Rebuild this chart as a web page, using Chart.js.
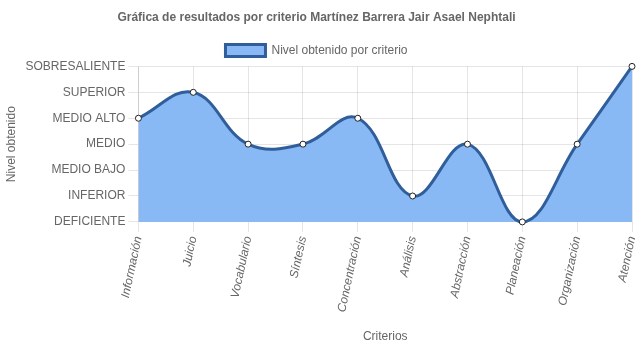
<!DOCTYPE html>
<html lang="es">
<head>
<meta charset="utf-8">
<title>Resultados por criterio</title>
<script src="https://cdn.jsdelivr.net/npm/chart.js@4.4.0/dist/chart.umd.min.js"></script>
<style>
  html, body { margin: 0; padding: 0; background: #fff; }
  #wrap { width: 637px; height: 348px; }
</style>
</head>
<body>
<div id="wrap"><canvas id="grafica"></canvas></div>
<script>
// Criterios evaluados (eje X)
const criterios = ["Información", "Juicio", "Vocabulario", "Síntesis", "Concentración",
                   "Análisis", "Abstracción", "Planeación", "Organización", "Atención"]

// Escala de niveles, de menor a mayor (eje Y)
const niveles = ["DEFICIENTE", "INFERIOR", "MEDIO BAJO", "MEDIO", "MEDIO ALTO", "SUPERIOR", "SOBRESALIENTE"]

// Nivel obtenido en cada criterio (índice dentro de `niveles`)
const nivelObtenido = [4, 5, 3, 3, 4, 1, 3, 0, 3, 6]

Chart.defaults.font.family = "'Liberation Sans', Arial, Helvetica, sans-serif"
Chart.defaults.color = "#666"

new Chart(document.getElementById("grafica").getContext("2d"), {
    type: "line",
    data: {
        labels: criterios,
        datasets: [{
            label: "Nivel obtenido por criterio",
            data: nivelObtenido,
            backgroundColor: "#88b9f4",
            borderColor: "#2f5e9b",
            borderWidth: 3,
            fill: true,
            tension: 0.4,
            clip: false, // que los puntos del borde se vean completos
            pointRadius: 3,
            pointBackgroundColor: "#fff",
            pointBorderColor: "#222",
            pointBorderWidth: 1,
        }],
    },
    options: {
        responsive: true,
        maintainAspectRatio: false,
        animation: false,
        layout: { padding: { right: 4, left: 0, top: 0, bottom: 0 } },
        plugins: {
            title: {
                display: true,
                text: "Gráfica de resultados por criterio Martínez Barrera Jair Asael Nephtali",
                font: { size: 12, weight: "bold" },
                color: "#666",
                padding: { top: 10, bottom: 10 },
            },
            legend: {
                position: "top",
                labels: { boxWidth: 40, boxHeight: 12, font: { size: 12 } },
            },
            tooltip: { enabled: false },
        },
        scales: {
            x: {
                grid: { color: "rgba(0,0,0,0.1)", tickLength: 10 },
                ticks: {
                    minRotation: 78,
                    maxRotation: 78,
                    font: { size: 12, style: "italic" },
                },
                title: { display: true, text: "Criterios", font: { size: 12 }, padding: { top: 13 } },
                // la etiqueta girada de "Atención" no necesita reservar margen a la derecha
                afterFit: scale => { scale.paddingRight = 0 },
            },
            y: {
                min: 0,
                max: niveles.length - 1,
                grid: { color: "rgba(0,0,0,0.1)", tickLength: 10 },
                ticks: {
                    stepSize: 1,
                    font: { size: 12 },
                    callback: v => niveles[v],
                },
                title: { display: true, text: "Nivel obtenido", font: { size: 12 } },
            },
        },
    },
})
</script>
</body>
</html>
